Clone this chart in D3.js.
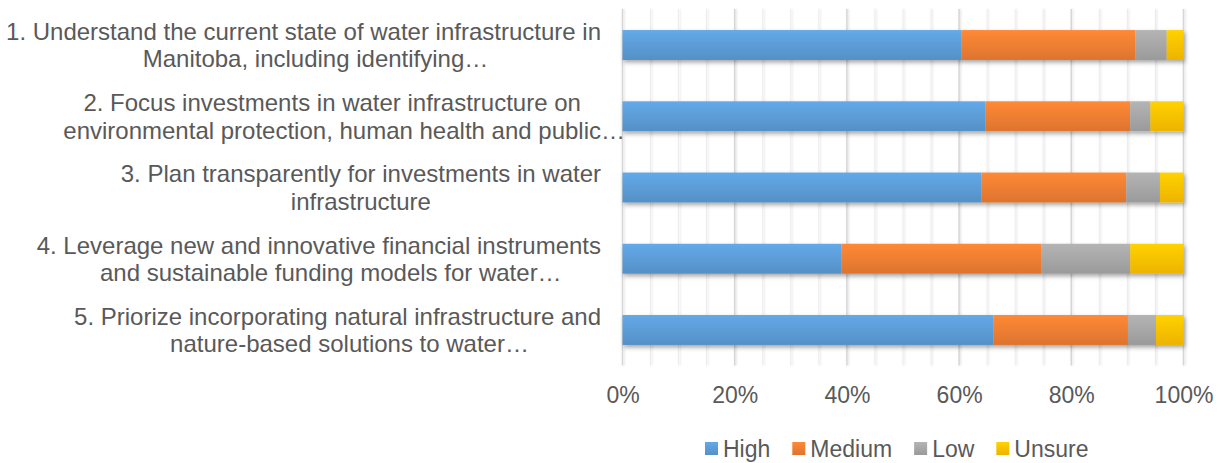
<!DOCTYPE html>
<html>
<head>
<meta charset="utf-8">
<script src="https://cdn.jsdelivr.net/npm/d3@7"></script>
<style>
  html, body { margin: 0; padding: 0; background: #fff; }
  svg { display: block; font-family: "Liberation Sans", Arial, sans-serif; }
</style>
</head>
<body>
<svg id="chart" width="1225" height="463"></svg>
<script>
// ---- data ----
const categories = [
  ["1. Understand the current state of water infrastructure in", "Manitoba, including identifying…"],
  ["2. Focus investments in water infrastructure on", "environmental protection, human health and public…"],
  ["3. Plan transparently for investments in water", "infrastructure"],
  ["4. Leverage new and innovative financial instruments", "and sustainable funding models for water…"],
  ["5. Priorize incorporating natural infrastructure and", "nature-based solutions to water…"]
];
const seriesNames = ["High", "Medium", "Low", "Unsure"];
const high   = [60.4, 64.7, 64.0, 39.0, 66.1];
const medium = [31.0, 25.8, 25.8, 35.7, 24.0];
const low    = [5.6, 3.6, 6.0, 15.8, 5.0];
const unsure = [3.0, 5.9, 4.2, 9.5, 4.9];
const tickValues = [0, 0.2, 0.4, 0.6, 0.8, 1.0];
const colors = ["#5B9BD5", "#ED7D31", "#A5A5A5", "#FFC000"];

// ---- layout ----
const svg = d3.select("#chart");
const x0 = 622.5, x1 = 1183.5, yTop = 9.4, yBot = 365.6;
const fontSize = 23;
const catFontSize = 24;
const textColor = "#595959";

const rows = categories.map((c, i) => {
  const vals = [high[i], medium[i], low[i], unsure[i]];
  const tot = d3.sum(vals);
  return { idx: i, vals: vals.map(v => v / tot) };
});
const stack = d3.stack().keys([0, 1, 2, 3]).value((d, k) => d.vals[k]);
const stacked = stack(rows);

const x = d3.scaleLinear().domain([0, 1]).range([x0, x1]);
const y = d3.scaleBand().domain(d3.range(categories.length)).range([yTop, yBot])
  .paddingInner(0.58).paddingOuter(0.29);

// defs: gradients + shadow
const defs = svg.append("defs");
colors.forEach((c, i) => {
  const g = defs.append("linearGradient").attr("id", "grad" + i)
    .attr("x1", 0).attr("y1", 0).attr("x2", 0).attr("y2", 1);
  g.append("stop").attr("offset", "0%").attr("stop-color", d3.color(c).brighter(0.25));
  g.append("stop").attr("offset", "100%").attr("stop-color", d3.color(c).darker(0.2));
});
const f = defs.append("filter").attr("id", "shadow")
  .attr("x", "-5%").attr("y", "-30%").attr("width", "110%").attr("height", "180%");
f.append("feDropShadow").attr("dx", 1.5).attr("dy", 2.5).attr("stdDeviation", 2)
  .attr("flood-color", "#000").attr("flood-opacity", 0.35);
const fg = defs.append("filter").attr("id", "gshadow")
  .attr("x", "-200%").attr("y", "-5%").attr("width", "500%").attr("height", "110%");
fg.append("feDropShadow").attr("dx", 1).attr("dy", 0).attr("stdDeviation", 0.8)
  .attr("flood-color", "#000").attr("flood-opacity", 0.15);

// gridlines: minor every 5%, major every 20%
const minor = d3.range(0, 1.0001, 0.05).filter(v => Math.round(v * 100) % 20 !== 0);
svg.append("g").attr("filter", "url(#gshadow)")
  .selectAll("line.minor").data(minor).join("line")
  .attr("x1", d => x(d)).attr("x2", d => x(d))
  .attr("y1", yTop - 0.4).attr("y2", yBot)
  .attr("stroke", "#ececec").attr("stroke-width", 1);
svg.append("g").attr("filter", "url(#gshadow)")
  .selectAll("line.major").data(tickValues).join("line")
  .attr("x1", d => x(d)).attr("x2", d => x(d))
  .attr("y1", yTop - 0.4).attr("y2", yBot)
  .attr("stroke", "#d6d6d6").attr("stroke-width", 1.5);

// bars
const barG = svg.append("g").attr("filter", "url(#shadow)");
stacked.forEach((layer, k) => {
  barG.append("g").selectAll("rect").data(layer).join("rect")
    .attr("x", d => x(d[0]))
    .attr("width", d => x(d[1]) - x(d[0]))
    .attr("y", d => y(d.data.idx))
    .attr("height", y.bandwidth())
    .attr("fill", "url(#grad" + k + ")");
});

// x axis labels
const xAxis = d3.axisBottom(x).tickValues(tickValues).tickFormat(d3.format(".0%")).tickSize(0).tickPadding(0);
const ax = svg.append("g").attr("transform", `translate(0,${yBot})`).call(xAxis);
ax.select(".domain").remove();
ax.selectAll("text").attr("y", 37).attr("dy", 0)
  .attr("font-size", fontSize).attr("fill", textColor)
  .attr("font-family", "'Liberation Sans', Arial, sans-serif");

// category labels (centered block, right edge at 601)
const rightEdge = 601, lineH = 27.5;
const labG = svg.append("g").attr("font-size", catFontSize).attr("fill", textColor);
const measure = labG.append("text").attr("visibility", "hidden");
function w(s) { measure.text(s); return measure.node().getComputedTextLength(); }
categories.forEach((lines, i) => {
  const widths = lines.map(s => w(s.replace(/…$/, "")));
  const maxW = d3.max(widths);
  const cx = rightEdge - maxW / 2;
  const cy = y(i) + y.bandwidth() / 2;
  const n = lines.length;
  lines.forEach((s, j) => {
    const ly = cy + (j - (n - 1) / 2) * lineH;
    labG.append("text")
      .attr("x", cx - widths[j] / 2)
      .attr("y", ly)
      .attr("dy", "0.36em")
      .text(s);
  });
});
measure.remove();

// legend
const legend = svg.append("g").attr("font-size", fontSize).attr("fill", textColor);
let lx = 705;
const ly = 449;
seriesNames.forEach((name, k) => {
  legend.append("rect").attr("x", lx).attr("y", ly - 7).attr("width", 13).attr("height", 13)
    .attr("fill", "url(#grad" + k + ")");
  const t = legend.append("text").attr("x", lx + 18).attr("y", ly).attr("dy", "0.36em").text(name);
  lx += 18 + t.node().getComputedTextLength() + 22;
});
</script>
</body>
</html>
